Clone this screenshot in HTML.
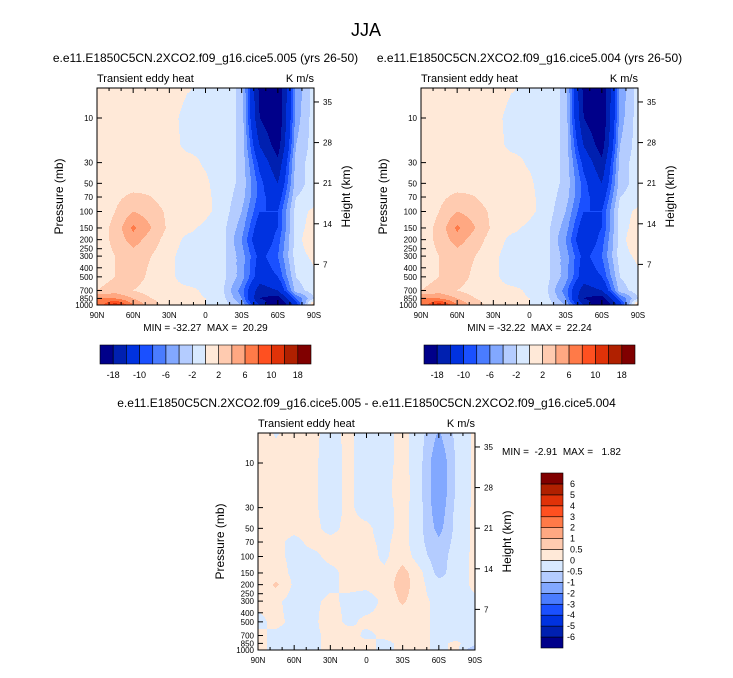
<!DOCTYPE html>
<html><head><meta charset="utf-8">
<style>
body{margin:0;background:#fff;}
svg text{font-family:"Liberation Sans",sans-serif;fill:#000;white-space:pre;}
</style></head>
<body>
<svg id="fig" width="733" height="673" viewBox="0 0 733 673" xmlns="http://www.w3.org/2000/svg">
<rect width="733" height="673" fill="#fff"/>
<text x="366" y="36" font-size="18" text-anchor="middle">JJA</text>
<g id="layer"></g>
</svg>
<script>
// ---- data ----
const pressures = [3,10,20,30,50,70,100,150,200,300,500,700,850,1000];
const latitudes = [90,75,60,45,30,15,0,-15,-30,-45,-60,-75,-90];
const fieldA = [
[1,1,1,1,1,0.5,-0.3,-1,-2.5,-20,-22,-6,-1],
[1,1,1,1,0.5,-0.5,-0.3,-1,-2.5,-18,-22,-5,-1],
[1,1,1,1,0.5,-0.3,-0.3,-1,-2.5,-14,-20,-4,-1],
[1,1,1,1,1,0.5,-0.2,-1,-2.5,-11,-17,-3,-1],
[1,1,1,1.5,1,0.5,0.3,-1,-2.5,-9,-14,-3,-1],
[1,1.5,2.5,2,1,1,0.5,-1,-3,-9,-12,-2,-1],
[1,2,4,3,1.5,2,0.5,-1,-4,-10,-10,-1,0.5],
[1,2.5,6.5,4,1.5,0.5,-0.5,-1.5,-5,-12,-10,-1,1],
[1,2.5,5,3,1,-0.5,-0.5,-1.5,-6,-13,-9,-1,2],
[1,2,3,2,0.5,-1,-1,-1.5,-5,-11,-8,-1,0.5],
[1,2,3,1.5,0.5,-1,-0.5,-1.5,-5,-12,-10,-2,-0.5],
[2,3,2,1,0.5,0.5,-0.3,-2,-7,-16,-14,-3,-1],
[6,6,4,2,1,0.5,0,-1.5,-6,-18,-20,-8,-2],
[6,12,6,3,1,0.5,0,-1,-4,-14,-24,-12,4]];
const fieldB = [
[1,1,1,1,1,0.5,-0.3,-1,-2.5,-20,-22,-6,-1],
[1,1,1,1,0.5,-0.5,-0.3,-1,-2.5,-18,-22,-5,-1],
[1,1,1,1,0.5,-0.3,-0.3,-1,-2.5,-14,-20,-4,-1],
[1,1,1,1,1,0.5,-0.2,-1,-2.5,-11,-17,-3,-1],
[1,1,1,1.5,1,0.5,0.3,-1,-2.5,-9,-14,-3,-1],
[1,1.5,2.5,2,1,1,0.5,-1,-3,-9,-12,-2,-1],
[1,2,4,3,1.5,2,0.5,-1,-4,-10,-10,-1,0.5],
[1,2.5,6.5,4,1.5,0.5,-0.5,-1.5,-5,-12,-10,-1,1],
[1,2.5,5,3,1,-0.5,-0.5,-1.5,-6,-13,-9,-1,2],
[1,2,3,2,0.5,-1,-1,-1.5,-5,-11,-8,-1,0.5],
[1,2,3,1.5,0.5,-1,-0.5,-1.5,-5,-12,-10,-2,-0.5],
[2,3,2,1,0.5,0.5,-0.3,-2,-7,-16,-14,-3,-1],
[6,6,4,2,1,0.5,0,-1.5,-6,-18,-20,-8,-2],
[6,12,6,3,1,0.5,0,-1,-4,-14,-24,-12,4]];
const fieldDiff = [
[0.1,-0.1,0.1,0.1,-0.1,0.1,-0.2,-0.2,0.2,-0.3,-0.8,-0.3,0.1],
[0.1,0.1,0.1,0.1,-0.2,0.1,-0.2,-0.2,0.2,-0.4,-1.5,-0.4,0.1],
[0.1,0.1,0.1,0.1,-0.2,0.1,-0.2,-0.2,0.3,-0.4,-1.5,-0.4,0.1],
[0.1,0.1,0.1,0.1,-0.2,0.1,-0.2,-0.2,0.2,-0.4,-1.4,-0.3,0.1],
[0.1,0.1,0.1,0.1,-0.1,0.1,0.1,-0.2,0.2,-0.4,-1.2,-0.3,0.1],
[0.1,0.1,-0.1,0.1,0.1,0.1,0.1,-0.1,0.2,-0.4,-0.9,-0.3,0.1],
[0.1,0.1,-0.1,-0.1,0.1,0.1,0.2,-0.1,0.3,-0.3,-0.8,-0.2,0.1],
[0.1,0.2,-0.1,-0.2,-0.1,0.1,0.1,0.1,0.7,0.1,-0.7,-0.2,0.1],
[0.1,0.6,-0.1,-0.2,-0.1,0.1,0.1,0.2,0.8,0.1,-0.3,-0.2,0.1],
[0.1,0.1,-0.2,-0.1,0.1,-0.1,-0.2,0.1,0.6,0.1,-0.1,-0.1,-0.1],
[-0.1,0.1,-0.1,-0.1,0.2,-0.1,0.1,0.1,0.1,0.1,-0.1,-0.2,-0.1],
[0.1,-0.1,-0.1,-0.1,0.1,0.2,-0.1,0.1,0.1,0.1,-0.1,-0.2,-0.3],
[0.1,-0.1,-0.1,-0.1,0.1,0.1,0.1,-0.1,0.1,0.1,-0.1,0.1,-0.3],
[0.1,-0.1,-0.1,-0.1,0.1,0.1,0.1,-0.1,0.1,0.1,-0.1,0.1,-1]];
const levelsMain = [-18,-14,-10,-8,-6,-4,-2,0,2,4,6,8,10,14,18];
const levelsDiff = [-6,-5,-4,-3,-2,-1,-0.5,0,0.5,1,2,3,4,5,6];
const labelsMain = ["-18","-10","-6","-2","2","6","10","18"];
const labelsDiff = ["-6","-5","-4","-3","-2","-1","-0.5","0","0.5","1","2","3","4","5","6"];
const pressureTicks = [10,30,50,70,100,150,200,250,300,400,500,700,850,1000];
const latTicks = [90,60,30,0,-30,-60,-90];
const latTickLabels = ["90N","60N","30N","0","30S","60S","90S"];
const heightTicks = [35,28,21,14,7];
const colors = ["#00008a","#0020b0","#0032e0","#1a50ff","#4a7cff","#82a8ff","#b4ccff","#d8e9ff","#ffe9d8","#ffcbb0","#ffa882","#ff7a48","#ff5020","#e03208","#b02000","#800000"];

const NS="http://www.w3.org/2000/svg";
const layer=document.getElementById('layer');
function mk(tag,attrs,parent){const e=document.createElementNS(NS,tag);for(const k in attrs)e.setAttribute(k,attrs[k]);(parent||layer).appendChild(e);return e;}
const W=217,H=217;
function xScale(lat){return (90-lat)/180*W;}
function yScale(p){return H-(3-Math.log10(p))*93.5;}
function colorIndex(v,levels){let i=0;while(i<levels.length&&v>=levels[i])i++;return i;}
function sample(field,lat,p){
  let fi=(90-lat)/15; fi=Math.max(0,Math.min(latitudes.length-1.0001,fi));
  const i=Math.floor(fi),tx=fi-i;
  const lp=Math.log10(p);
  let j=0; while(j<pressures.length-2&&Math.log10(pressures[j+1])<lp)j++;
  let ty=(lp-Math.log10(pressures[j]))/(Math.log10(pressures[j+1])-Math.log10(pressures[j]));
  ty=Math.max(0,Math.min(1,ty));
  const a=field[j][i],b=field[j][i+1],c=field[j+1][i],d=field[j+1][i+1];
  return a*(1-tx)*(1-ty)+b*tx*(1-ty)+c*(1-tx)*ty+d*tx*ty;
}
function panel(name,field,levels,x0,y0,title,minmax,mmx,mmy,mmAnchor){
  const g=mk('g',{transform:`translate(${x0},${y0})`});
  
  
  const cells=mk('g',{'shape-rendering':'crispEdges'},g);
  
  
  const step=1;
  for(let y=0;y<H;y+=step){
    const p=Math.pow(10,3-(H-(y+step/2))/93.5);
    let runStart=0,runC=-1;
    for(let x=0;x<=W;x+=step){
      let c=-2;
      if(x<W){const lat=90-(x+step/2)/W*180;c=colorIndex(sample(field,lat,p),levels);}
      if(c!==runC){
        if(runC>=0){const r=mk('rect',{x:runStart,y:y,width:x-runStart,height:step,fill:colors[runC]},cells);
          
          }
        runStart=x;runC=c;
      }
    }
  }
  const fr=mk('rect',{x:0,y:0,width:W,height:H,fill:'none',stroke:'#000','stroke-width':1},g);
  
  
  pressureTicks.forEach(p=>{const y=yScale(p);
    mk('line',{x1:0,x2:5,y1:y,y2:y,stroke:'#000'},g);
    const t=mk('text',{x:-4,y:y+3,'font-size':8,'text-anchor':'end'},g);t.textContent=p;
    
    });
  for(let lat=90;lat>=-90;lat-=10){const x=xScale(lat);const maj=lat%30===0;
    mk('line',{x1:x,x2:x,y1:H,y2:H-(maj?5:3),stroke:'#000'},g);
    mk('line',{x1:x,x2:x,y1:0,y2:maj?5:3,stroke:'#000'},g);}
  latTicks.forEach((lat,k)=>{const t=mk('text',{x:xScale(lat),y:H+13,'font-size':8,'text-anchor':'middle'},g);t.textContent=latTickLabels[k];
    
    });
  heightTicks.forEach(h=>{const p=1000*Math.exp(-h/7);const y=yScale(p);
    mk('line',{x1:W,x2:W+5,y1:y,y2:y,stroke:'#000'},g);
    const t=mk('text',{x:W+9,y:y+3,'font-size':8},g);t.textContent=h;
    
    });
  let t=mk('text',{x:-34,y:H/2,'font-size':12,'text-anchor':'middle',transform:`rotate(-90 -34 ${H/2})`},g);t.textContent='Pressure (mb)';
  
  t=mk('text',{x:W+36,y:H/2,'font-size':12,'text-anchor':'middle',transform:`rotate(-90 ${W+36} ${H/2})`},g);t.textContent='Height (km)';
  
  t=mk('text',{x:0,y:-6,'font-size':11},g);t.textContent='Transient eddy heat';
  
  t=mk('text',{x:W,y:-6,'font-size':11,'text-anchor':'end'},g);t.textContent='K m/s';
  
  t=mk('text',{x:W/2,y:-26,'font-size':12,'text-anchor':'middle'},g);t.textContent=title;
  
  t=mk('text',{x:mmx,y:mmy,'font-size':10,'text-anchor':mmAnchor},g);t.textContent=minmax;
  
}
panel('panel-005',fieldA,levelsMain,97,88,'e.e11.E1850C5CN.2XCO2.f09_g16.cice5.005 (yrs 26-50)','MIN = -32.27  MAX =  20.29',W/2,H+26,'middle');
panel('panel-004',fieldB,levelsMain,421,88,'e.e11.E1850C5CN.2XCO2.f09_g16.cice5.004 (yrs 26-50)','MIN = -32.22  MAX =  22.24',W/2,H+26,'middle');
panel('panel-diff',fieldDiff,levelsDiff,258,433,'e.e11.E1850C5CN.2XCO2.f09_g16.cice5.005 - e.e11.E1850C5CN.2XCO2.f09_g16.cice5.004','MIN =  -2.91  MAX =   1.82',244,22,'start');

function hbar(name,x0,y0){
  const g=mk('g',{transform:`translate(${x0},${y0})`});
  
  
  const bw=211/16;
  colors.forEach((c,i)=>{const r=mk('rect',{x:i*bw,y:0,width:bw,height:19,fill:c,stroke:'#000','stroke-width':0.6},g);
    
    });
  labelsMain.forEach((l,k)=>{const t=mk('text',{x:(2*k+1)*bw,y:33,'font-size':9,'text-anchor':'middle'},g);t.textContent=l;
    
    });
}
hbar('colorbar-005',100,345);
hbar('colorbar-004',424,345);
(function(){
  const g=mk('g',{transform:'translate(541,473)'});
  
  
  const bh=175/16;
  colors.forEach((c,i)=>{const r=mk('rect',{x:0,y:(15-i)*bh,width:22,height:bh,fill:c,stroke:'#000','stroke-width':0.6},g);
    
    });
  labelsDiff.forEach((l,k)=>{const t=mk('text',{x:l.startsWith('-')?26:29,y:(15-k)*bh+3,'font-size':9},g);t.textContent=l;
    
    });
})();
</script>
</body></html>
